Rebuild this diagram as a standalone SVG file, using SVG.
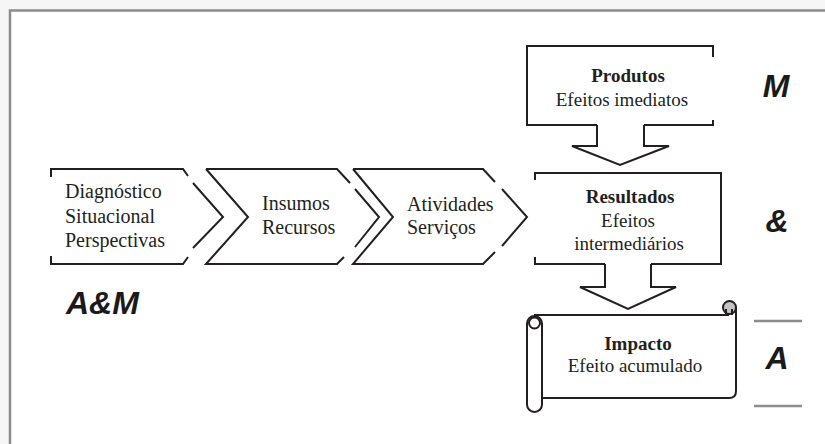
<svg xmlns="http://www.w3.org/2000/svg" width="825" height="444" viewBox="0 0 825 444">
<style>
.ln{fill:none;stroke:#231f20;stroke-width:2;stroke-linejoin:miter}
.t{font-family:"Liberation Serif","Times New Roman",serif;fill:#231f20}
.c{font-size:20px}
.r{font-size:19px;text-anchor:middle}
.b{font-weight:bold}
.big{font-family:"Liberation Sans",Arial,sans-serif;font-weight:bold;font-style:italic;font-size:32px;fill:#1a1a1a}
.gr{stroke:#8c8c8c;stroke-width:2.5;fill:none}
</style>
<rect x="0" y="0" width="825" height="444" fill="#f6f6f6"/>
<rect x="10" y="10.5" width="815" height="434" fill="#ffffff"/>
<path class="gr" d="M10,444 V10.5 H825" stroke-width="3" stroke="#9a9a9a"/>

<g id="diagnostico">
<path class="ln" d="M51,177 V169 H183 L188,176 M193,183 L223,217 L193,248 M188,257 L183,264 H51 V256"/>
<text class="t c" x="65" y="198">Diagnóstico</text>
<text class="t c" x="65" y="223">Situacional</text>
<text class="t c" x="65" y="247">Perspectivas</text>
</g>

<g id="insumos">
<path class="ln" d="M206,169 L248,217 L206,264 H337 L344,257 M355,247 L379,217 L355,189 M350,183 L337,169 H206"/>
<text class="t c" x="262" y="210">Insumos</text>
<text class="t c" x="262" y="234">Recursos</text>
</g>

<g id="atividades">
<path class="ln" d="M353,169 L393,217 L353,264 H483 L495,252 M502,246 L527,217 L502,189 M495,182 L483,169 H353"/>
<text class="t c" x="407" y="211">Atividades</text>
<text class="t c" x="407" y="234">Serviços</text>
</g>

<g id="produtos">
<path class="ln" d="M713,57 V46 H527 V125 H597 M644,125 H713 V120"/>
<text class="t r b" x="628" y="82">Produtos</text>
<text class="t r" x="622" y="106">Efeitos imediatos</text>
</g>

<g id="resultados">
<path class="ln" d="M535,180 V173 H721 V264 H651 M605,264 H535 V257"/>
<text class="t r b" x="630" y="203">Resultados</text>
<text class="t r" x="628" y="227">Efeitos</text>
<text class="t r" x="629" y="250">intermediários</text>
</g>

<g id="impacto">
<path class="ln" d="M534,315 H729 M736,307 V391 Q736,398 729,398 H542"/>
<rect class="ln" x="527" y="316" width="15" height="96" rx="7.5"/>
<circle class="ln" cx="534.5" cy="323" r="5.5" fill="#fff"/>
<circle cx="729.5" cy="307.5" r="6.5" fill="#c4c4c4" stroke="#231f20" stroke-width="2"/>
<path class="ln" d="M726,309 V315 M732,309 V315" stroke-width="1.5"/>
<text class="t r b" x="638" y="350">Impacto</text>
<text class="t r" x="635" y="372">Efeito acumulado</text>
</g>

<g id="connectors">
<path class="ln" d="M597,125 V146 H572 L620,165 L669,146 H644 V125"/>
<path class="ln" d="M605,264 V287 H580 L628,309 L676,287 H651 V264"/>
</g>

<g id="labels">
<text class="big" x="776" y="97" text-anchor="middle">M</text>
<text class="big" x="777" y="232" text-anchor="middle">&amp;</text>
<text class="big" x="777" y="369" text-anchor="middle">A</text>
<text class="big" x="66" y="314">A&amp;M</text>
<path class="gr" d="M754,321 H802 M754,406 H802"/>
</g>
</svg>
